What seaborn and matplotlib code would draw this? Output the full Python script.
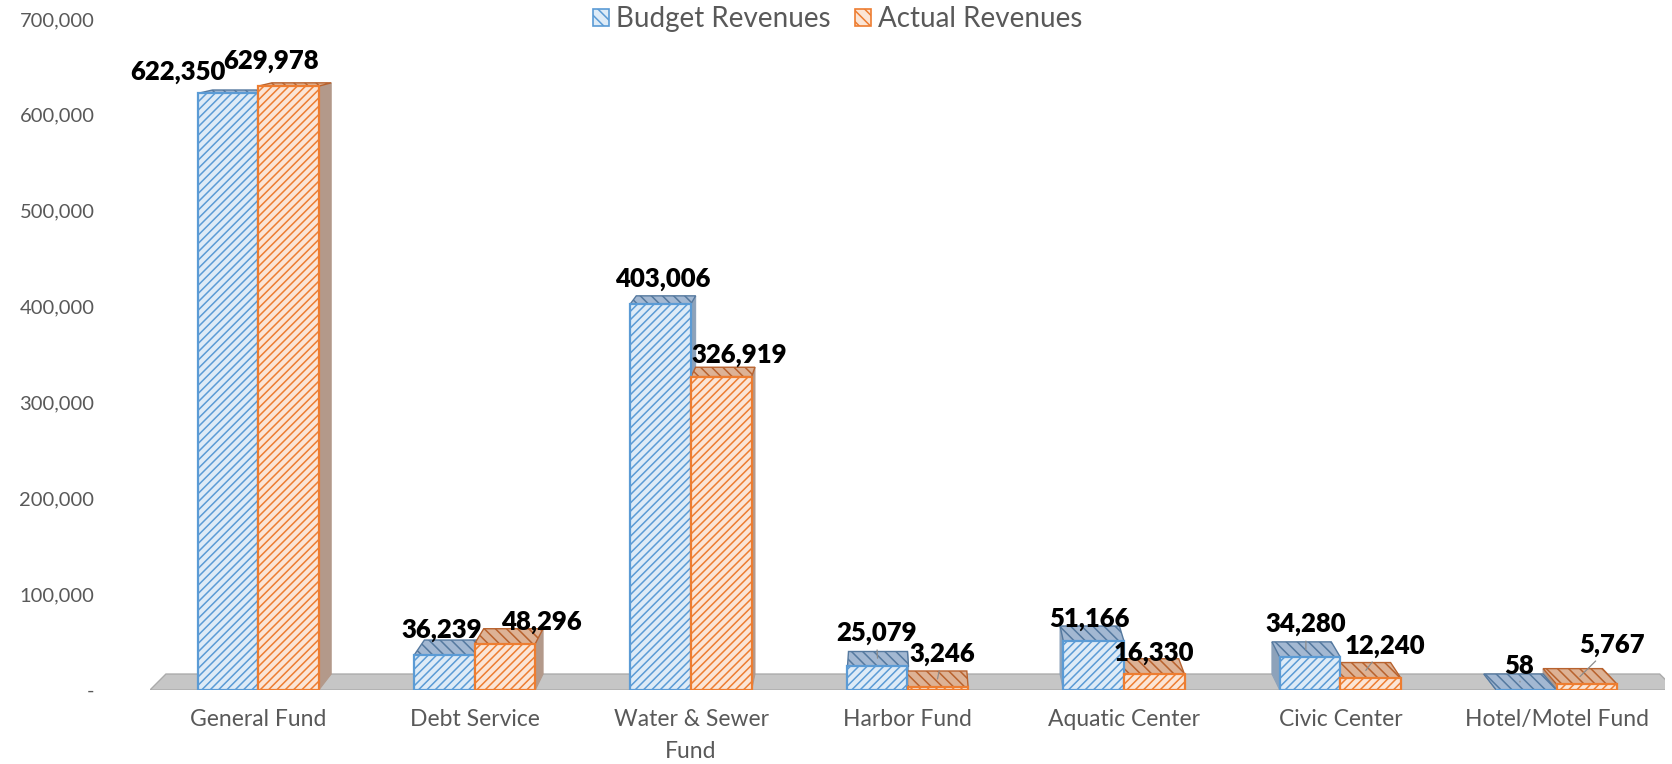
import numpy as np
import pandas as pd
import matplotlib
matplotlib.use("Agg")
import matplotlib.pyplot as plt
import seaborn as sns
from matplotlib.patches import Polygon, Patch
from matplotlib.ticker import FuncFormatter, MultipleLocator

# ---- data -------------------------------------------------------------
funds = ["General Fund", "Debt Service", "Water & Sewer\nFund", "Harbor Fund",
         "Aquatic Center", "Civic Center", "Hotel/Motel Fund"]
budget_revenues = [622350, 36239, 403006, 25079, 51166, 34280, 58]
actual_revenues = [629978, 48296, 326919, 3246, 16330, 12240, 5767]
series_names = ["Budget Revenues", "Actual Revenues"]

df = pd.DataFrame({
    "fund": funds * 2,
    "value": budget_revenues + actual_revenues,
    "series": [series_names[0]] * len(funds) + [series_names[1]] * len(funds),
})

# label placement tweaks (pixels: right, up) and which labels get a leader line
label_nudge = {
    "Budget Revenues": [(-50, 0), (-3, 4), (2, 3), (-1, 11), (-4, 0), (-4, 11), (-7, 2)],
    "Actual Revenues": [(-17, 3), (36, 0), (18, 0), (5, 11), (0, 0), (14, 11), (25, 18)],
}
label_leader = {
    "Budget Revenues": [False, False, False, True, False, True, True],
    "Actual Revenues": [False, False, False, True, False, True, True],
}

# ---- style ------------------------------------------------------------
sns.set_theme(style="white")
plt.rcParams["font.family"] = ["Lato", "DejaVu Sans"]
plt.rcParams["hatch.linewidth"] = 1.1

FRONT = {"Budget Revenues": ("#DEEBF7", "#5B9BD5"),
         "Actual Revenues": ("#FBE5D6", "#ED7D31")}
TOP = {"Budget Revenues": ("#A3B8D2", "#55799F"),
       "Actual Revenues": ("#DDB295", "#B8622E")}
SIDE = {"Budget Revenues": "#8DA2BA",
        "Actual Revenues": "#B3998A"}
TEXT_GREY = "#595959"

W, H = 1672, 764
fig = plt.figure(figsize=(W / 100, H / 100), dpi=100)
ax = fig.add_axes([150 / W, 74 / H, 1515 / W, 671 / H])

sns.barplot(data=df, x="fund", y="value", hue="series", order=funds,
            hue_order=series_names, palette=["#5B9BD5", "#ED7D31"],
            width=0.56, saturation=1, legend=False, ax=ax, zorder=3)

ax.set_xlim(-0.5, len(funds) - 0.5)
ax.set_ylim(0, 700000)

# front faces: light fill, coloured hatching and outline
for cont, name in zip(ax.containers, series_names):
    fc, ec = FRONT[name]
    for bar in cont:
        bar.set_facecolor(fc)
        bar.set_edgecolor(ec)
        bar.set_hatch("////")
        bar.set_linewidth(1.6)

# ---- simple perspective: faces recede toward a vanishing point --------
fig.canvas.draw()
to_disp = ax.transData.transform
to_data = ax.transData.inverted().transform
x_mid = np.mean(to_disp([(-0.5, 0), (len(funds) - 0.5, 0)])[:, 0])
vanish = np.array([x_mid, H + 70])
shrink = 0.979


def recede_px(d):
    return vanish + (np.asarray(d) - vanish) * shrink


def recede(pt):
    """Push a data-space point back in depth (toward the vanishing point)."""
    return tuple(to_data([recede_px(to_disp([pt])[0])])[0])


# floor slab
fl0, fl1 = (-0.5, 0), (len(funds) - 0.45, 0)
floor = Polygon([fl0, fl1, recede(fl1), recede(fl0)], closed=True,
                facecolor="#C6C6C6", edgecolor="#ABABAB", lw=1.0, zorder=1)
ax.add_patch(floor)

for cont, name in zip(ax.containers, series_names):
    tfc, tec = TOP[name]
    for bar in cont:
        x0 = bar.get_x()
        x1 = x0 + bar.get_width()
        yt = bar.get_height()
        # side face (the one turned toward the viewer)
        xs = x1 if to_disp([(0.5 * (x0 + x1), 0)])[0][0] < x_mid else x0
        side = Polygon([(xs, 0), (xs, yt), recede((xs, yt)), recede((xs, 0))],
                       closed=True, facecolor=SIDE[name],
                       edgecolor=SIDE[name], lw=0.8, zorder=1.6)
        ax.add_patch(side)
        # top face
        top = Polygon([(x0, yt), (x1, yt), recede((x1, yt)), recede((x0, yt))],
                      closed=True, facecolor=tfc, edgecolor=tec,
                      hatch="\\\\\\", lw=1.0, zorder=2)
        ax.add_patch(top)

# ---- value labels -----------------------------------------------------
PT = 72 / 100  # points per pixel
for cont, name, vals in zip(ax.containers, series_names,
                            [budget_revenues, actual_revenues]):
    for bar, v, (ndx, ndy), lead in zip(cont, vals, label_nudge[name],
                                        label_leader[name]):
        xc = bar.get_x() + bar.get_width() / 2
        front_px = to_disp([(xc, bar.get_height())])[0]
        anchor_px = front_px + np.array([ndx, 14 + ndy])
        if lead:
            face_px = 0.5 * (front_px + recede_px(front_px))
            off = (anchor_px - face_px) * PT
            ax.annotate(f"{v:,}", tuple(to_data([face_px])[0]),
                        xytext=tuple(off), textcoords="offset points",
                        ha="center", va="baseline", fontsize=18.5,
                        fontweight="heavy", color="black", zorder=6,
                        arrowprops=dict(arrowstyle="-", color="#8C8C8C",
                                        lw=0.9, shrinkA=1, shrinkB=0))
        else:
            off = (anchor_px - front_px) * PT
            ax.annotate(f"{v:,}", (xc, bar.get_height()),
                        xytext=tuple(off), textcoords="offset points",
                        ha="center", va="baseline", fontsize=18.5,
                        fontweight="heavy", color="black", zorder=6)

# ---- axes cosmetics ---------------------------------------------------
for s in ax.spines.values():
    s.set_visible(False)
ax.grid(False)
ax.set_xlabel("")
ax.set_ylabel("")
ax.yaxis.set_major_locator(MultipleLocator(100000))
ax.yaxis.set_major_formatter(
    FuncFormatter(lambda v, _: "-" if v == 0 else f"{v:,.0f}"))
ax.tick_params(axis="y", length=0, pad=40, labelsize=14.5, labelcolor=TEXT_GREY)
ax.tick_params(axis="x", length=0, pad=14, labelsize=16.5, labelcolor=TEXT_GREY)
for lbl in ax.get_xticklabels():
    lbl.set_linespacing(1.6)
    lbl.set_verticalalignment("top")

# ---- legend -----------------------------------------------------------
handles = [Patch(facecolor=FRONT[n][0], edgecolor=FRONT[n][1], hatch="\\\\\\",
                 lw=1.2, label=n) for n in series_names]
fig.legend(handles=handles, loc="center", bbox_to_anchor=(0.501, 1 - 19 / H),
           ncol=2, frameon=False, fontsize=20, labelcolor=TEXT_GREY,
           handlelength=0.55, handleheight=0.55, handletextpad=0.25,
           columnspacing=0.9)

fig.savefig("out.png", dpi=100)
